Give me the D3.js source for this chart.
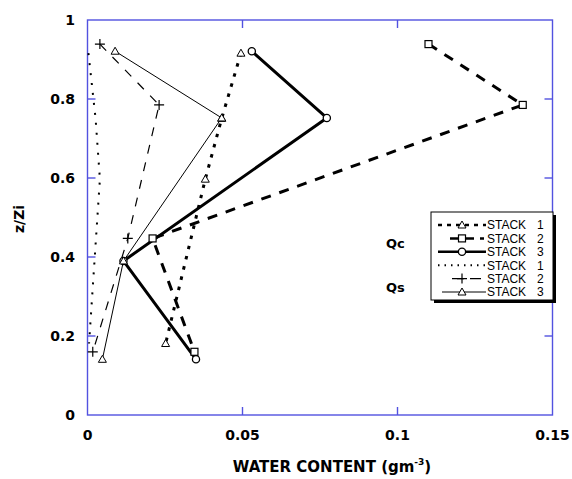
<!DOCTYPE html>
<html>
<head>
<meta charset="utf-8">
<script src="https://cdn.jsdelivr.net/npm/d3@7"></script>
<style>
  body { margin: 0; background: #fff; }
  svg { display: block; }
</style>
</head>
<body>
<svg id="chart" width="572" height="479"></svg>
<script>

// heights (z/Zi) of the three stacks
let levels1 = [0.916, 0.751, 0.597, 0.181];
let levels2 = [0.939, 0.785, 0.447, 0.160];
let levels3 = [0.921, 0.752, 0.390, 0.141];

// water content, gm-3
let qc1 = [0.0495, 0.0433, 0.0380, 0.0252];
let qc2 = [0.1100, 0.1404, 0.0210, 0.0345];
let qc3 = [0.0530, 0.0772, 0.0116, 0.0350];
let qs1 = [0.0003, 0.0026, 0.0040, 0.0005];
let qs2 = [0.0040, 0.0231, 0.0130, 0.0017];
let qs3 = [0.0089, 0.0433, 0.0116, 0.0048];

let xTicks = [0, 0.05, 0.1, 0.15];
let yTicks = [0, 0.2, 0.4, 0.6, 0.8, 1];
let legendLabels = ["STACK 1", "STACK 2", "STACK 3", "STACK 1", "STACK 2", "STACK 3"];
let groupLabels = ["Qc", "Qs"];

let frameColor = "#5252e0";

let series = [
    { x: qc1, y: levels1, width: 3, dash: "3.5,7", marker: "triangle" },
    { x: qc2, y: levels2, width: 3, dash: "10,9", marker: "square" },
    { x: qc3, y: levels3, width: 3, dash: null, marker: "circle" },
    { x: qs1, y: levels1, width: 2, dash: "2,8", marker: null },
    { x: qs2, y: levels2, width: 1.2, dash: "9,9", marker: "plus" },
    { x: qs3, y: levels3, width: 1, dash: null, marker: "triangle" }
];

let svg = d3.select("#chart");

let x = d3.scaleLinear().domain([0, 0.15]).range([87.5, 552.5]);
let y = d3.scaleLinear().domain([0, 1]).range([415, 20]);

let tickFont = "'DejaVu Sans', sans-serif";

// frame + inward ticks
let frame = svg.append("g");
frame.append("rect")
    .attr("x", x(0)).attr("y", y(1))
    .attr("width", x(0.15) - x(0)).attr("height", y(0) - y(1))
    .attr("fill", "none").attr("stroke", frameColor).attr("stroke-width", 1.4);

let innerX = xTicks.slice(1, -1);
let innerY = yTicks.slice(1, -1);
innerX.forEach(t => {
    frame.append("line").attr("x1", x(t)).attr("x2", x(t)).attr("y1", y(0)).attr("y2", y(0) - 8)
        .attr("stroke", frameColor).attr("stroke-width", 1.4);
    frame.append("line").attr("x1", x(t)).attr("x2", x(t)).attr("y1", y(1)).attr("y2", y(1) + 8)
        .attr("stroke", frameColor).attr("stroke-width", 1.4);
});
innerY.forEach(t => {
    frame.append("line").attr("x1", x(0)).attr("x2", x(0) + 8).attr("y1", y(t)).attr("y2", y(t))
        .attr("stroke", frameColor).attr("stroke-width", 1.4);
    frame.append("line").attr("x1", x(0.15)).attr("x2", x(0.15) - 8).attr("y1", y(t)).attr("y2", y(t))
        .attr("stroke", frameColor).attr("stroke-width", 1.4);
});

// tick labels
svg.append("g").selectAll("text").data(xTicks).join("text")
    .attr("x", d => x(d)).attr("y", 440)
    .attr("text-anchor", "middle")
    .attr("font-family", tickFont).attr("font-weight", "bold").attr("font-size", 14)
    .text(d => d3.format("")(d));

svg.append("g").selectAll("text").data(yTicks).join("text")
    .attr("x", 75).attr("y", d => y(d) + 5)
    .attr("text-anchor", "end")
    .attr("font-family", tickFont).attr("font-weight", "bold").attr("font-size", 14)
    .text(d => d3.format("")(d));

// axis titles
let xt = svg.append("text")
    .attr("x", 332).attr("y", 472)
    .attr("text-anchor", "middle")
    .attr("font-family", tickFont).attr("font-weight", "bold").attr("font-size", 15);
xt.append("tspan").text("WATER CONTENT (gm");
xt.append("tspan").attr("font-size", 9).attr("dy", -7).text("-3");
xt.append("tspan").attr("dy", 7).text(")");

svg.append("text")
    .attr("transform", "translate(24," + 219 + ") rotate(-90)")
    .attr("text-anchor", "middle")
    .attr("font-family", tickFont).attr("font-weight", "bold").attr("font-size", 14)
    .text("z/Zi");

// markers
let drawMarker = (g, kind, cx, cy) => {
    if (kind == "triangle") {
        g.append("path")
            .attr("d", `M${cx},${cy - 4}L${cx + 4},${cy + 3}L${cx - 4},${cy + 3}Z`)
            .attr("fill", "#fff").attr("stroke", "#000").attr("stroke-width", 1);
    } else if (kind == "square") {
        g.append("rect").attr("x", cx - 3.5).attr("y", cy - 3.5).attr("width", 7).attr("height", 7)
            .attr("fill", "#fff").attr("stroke", "#000").attr("stroke-width", 1.2);
    } else if (kind == "circle") {
        g.append("circle").attr("cx", cx).attr("cy", cy).attr("r", 3.6)
            .attr("fill", "#fff").attr("stroke", "#000").attr("stroke-width", 1.3);
    } else if (kind == "plus") {
        g.append("path").attr("d", `M${cx - 5},${cy}H${cx + 5}M${cx},${cy - 5}V${cy + 5}`)
            .attr("stroke", "#000").attr("stroke-width", 1.2);
    }
};

let line = d3.line().x(d => x(d[0])).y(d => y(d[1]));

let plot = svg.append("g");
series.forEach(s => {
    let pts = s.x.map((v, i) => [v, s.y[i]]);
    plot.append("path")
        .attr("d", line(pts))
        .attr("fill", "none")
        .attr("stroke", "#000")
        .attr("stroke-width", s.width)
        .attr("stroke-dasharray", s.dash)
        .attr("stroke-linejoin", "round");
});
series.forEach(s => {
    if (!s.marker) return;
    s.x.forEach((v, i) => drawMarker(plot, s.marker, x(v), y(s.y[i])));
});

// legend
let lg = svg.append("g");
lg.append("rect").attr("x", 434).attr("y", 215).attr("width", 122).attr("height", 88).attr("fill", "#000");
lg.append("rect").attr("x", 431).attr("y", 212).attr("width", 122).attr("height", 88)
    .attr("fill", "#fff").attr("stroke", "#000").attr("stroke-width", 1);

let sampleX = [[438, 486], [450, 484], [438, 486], [438, 486], [452, 481], [442, 486]];
let sampleDash = ["4,5", "9,6", null, "1.5,5", "12,6", null];
series.forEach((s, i) => {
    let ly = 225 + i * 13.4;
    lg.append("line")
        .attr("x1", sampleX[i][0]).attr("x2", sampleX[i][1]).attr("y1", ly).attr("y2", ly)
        .attr("stroke", "#000").attr("stroke-width", Math.min(s.width, 2.5))
        .attr("stroke-dasharray", sampleDash[i]);
    if (s.marker) drawMarker(lg, s.marker, 462, ly);
    let t = lg.append("text").attr("x", 487).attr("y", ly + 4.3)
        .attr("font-family", "'Liberation Sans', Arial, sans-serif")
        .attr("font-size", 12);
    let parts = legendLabels[i].split(" ");
    t.append("tspan").text(parts[0]);
    t.append("tspan").attr("x", 537).text(parts[1]);
});

svg.append("g").selectAll("text").data(groupLabels).join("text")
    .attr("x", 386).attr("y", (d, i) => i == 0 ? 248 : 292)
    .attr("font-family", tickFont).attr("font-weight", "bold").attr("font-size", 13)
    .text(d => d);

</script>
</body>
</html>
